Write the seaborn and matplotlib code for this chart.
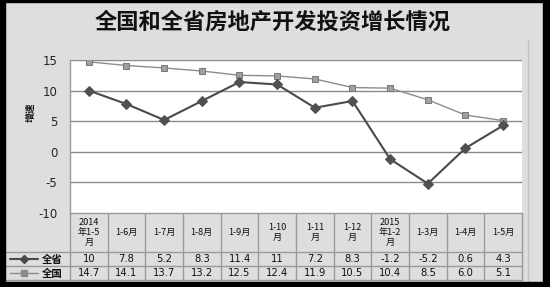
import matplotlib
matplotlib.use("Agg")
import matplotlib.pyplot as plt
from matplotlib.patches import Rectangle
import seaborn as sns
import pandas as pd

sns.set_theme(style="white")
plt.rcParams['font.family'] = ['Noto Sans CJK SC', 'DejaVu Sans']

title = "全国和全省房地产开发投资增长情况"
categories = ["2014\n年1-5\n月", "1-6月", "1-7月", "1-8月", "1-9月", "1-10\n月",
              "1-11\n月", "1-12\n月", "2015\n年1-2\n月", "1-3月", "1-4月", "1-5月"]
series_names = ["全省", "全国"]
prov = [10, 7.8, 5.2, 8.3, 11.4, 11, 7.2, 8.3, -1.2, -5.2, 0.6, 4.3]
nat = [14.7, 14.1, 13.7, 13.2, 12.5, 12.4, 11.9, 10.5, 10.4, 8.5, 6.0, 5.1]
prov_labels = ["10", "7.8", "5.2", "8.3", "11.4", "11", "7.2", "8.3", "-1.2", "-5.2", "0.6", "4.3"]
nat_labels = ["14.7", "14.1", "13.7", "13.2", "12.5", "12.4", "11.9", "10.5", "10.4", "8.5", "6.0", "5.1"]
yticks = [-10, -5, 0, 5, 10, 15]
ylabel = "增速"

W, H = 550, 287
fig = plt.figure(figsize=(W / 100, H / 100), dpi=100)
bg = "#dedede"
fig.patch.set_facecolor(bg)

# overlay axes in pixel coordinates
ov = fig.add_axes([0, 0, 1, 1], zorder=0)
ov.set_xlim(0, W)
ov.set_ylim(H, 0)
ov.axis("off")
ov.patch.set_alpha(0)

# plot area in pixels
L, R, T, B = 70, 522, 60, 213
ax = fig.add_axes([L / W, 1 - B / H, (R - L) / W, (B - T) / H], zorder=2)
ax.set_facecolor("white")

n = len(categories)
df = pd.DataFrame({
    "x": list(range(n)) * 2,
    "value": prov + nat,
    "series": [series_names[0]] * n + [series_names[1]] * n,
})
sns.lineplot(data=df[df.series == "全国"], x="x", y="value", ax=ax, color="#8c8c8c",
             lw=1.0, marker="s", markersize=4.2, markerfacecolor="#a0a0a0",
             markeredgecolor="#7a7a7a", legend=False, zorder=3)
sns.lineplot(data=df[df.series == "全省"], x="x", y="value", ax=ax, color="#4a4a4a",
             lw=1.5, marker="D", markersize=5.2, markerfacecolor="#505050",
             markeredgecolor="#505050", legend=False, zorder=4)

ax.set_xlim(-0.5, n - 0.5)
ax.set_ylim(-10, 15)
ax.set_yticks(yticks)
ax.set_yticklabels([str(v) for v in yticks], fontsize=8.5, color="#222222", family="DejaVu Sans")
ax.tick_params(axis="y", length=0, pad=9)
ax.set_xticks([])
ax.set_xlabel("")
ax.set_ylabel("")
for v in yticks:
    ax.axhline(v, color="#8a8a8a", lw=1.0, zorder=1)
for s in ["top", "right", "bottom"]:
    ax.spines[s].set_visible(False)
ax.spines["left"].set_color("#9a9a9a")
ax.spines["left"].set_linewidth(1.0)

# y label
ov.text(31, 112, ylabel, rotation=90, ha="center", va="center", fontsize=7,
        fontweight="bold", color="#111111")

# title
ov.text(273, 22, title, ha="center", va="center", fontsize=16, fontweight="bold",
        color="#111111")

# data table
cw = (R - L) / n
hdr_top, hdr_bot, r1_bot, r2_bot = 213, 252, 266, 280
lc = "#9a9a9a"
for i in range(n + 1):
    xx = L + i * cw
    ov.plot([xx, xx], [hdr_top, r2_bot], color=lc, lw=1)
ov.plot([L, R], [hdr_top, hdr_top], color=lc, lw=1)
for yy in [hdr_bot, r1_bot, r2_bot]:
    ov.plot([5, R], [yy, yy], color=lc, lw=1)
for i, c in enumerate(categories):
    cx = L + (i + 0.5) * cw
    ov.text(cx, (hdr_top + hdr_bot) / 2, c, ha="center", va="center", fontsize=6.6,
            linespacing=1.1, color="#111111")
    ov.text(cx, (hdr_bot + r1_bot) / 2 + 0.5, prov_labels[i], ha="center", va="center",
            fontsize=7.2, color="#111111", family="DejaVu Sans")
    ov.text(cx, (r1_bot + r2_bot) / 2 + 0.5, nat_labels[i], ha="center", va="center",
            fontsize=7.2, color="#111111", family="DejaVu Sans")

# legend keys in table
for (yy, name, mk, col, lw, ms) in [((hdr_bot + r1_bot) / 2, "全省", "D", "#4a4a4a", 1.5, 4.2),
                                    ((r1_bot + r2_bot) / 2, "全国", "s", "#8c8c8c", 1.0, 4)]:
    ov.plot([10, 38], [yy, yy], color=col, lw=lw)
    ov.plot([24], [yy], marker=mk, color=col, markersize=ms)
    ov.text(42, yy + 0.5, name, ha="left", va="center", fontsize=7.5, fontweight="bold",
            color="#111111")

# faint right line
ov.plot([528, 528], [40, 282], color="#c4c4c4", lw=1)

# black frame
for (x0, y0, w, h) in [(0, 0, 5, H), (0, 0, W, 2), (543, 0, 7, H), (0, 282, W, 5)]:
    ov.add_patch(Rectangle((x0, y0), w, h, color="black", zorder=10))

fig.savefig("out.png", dpi=100, facecolor=fig.get_facecolor())
